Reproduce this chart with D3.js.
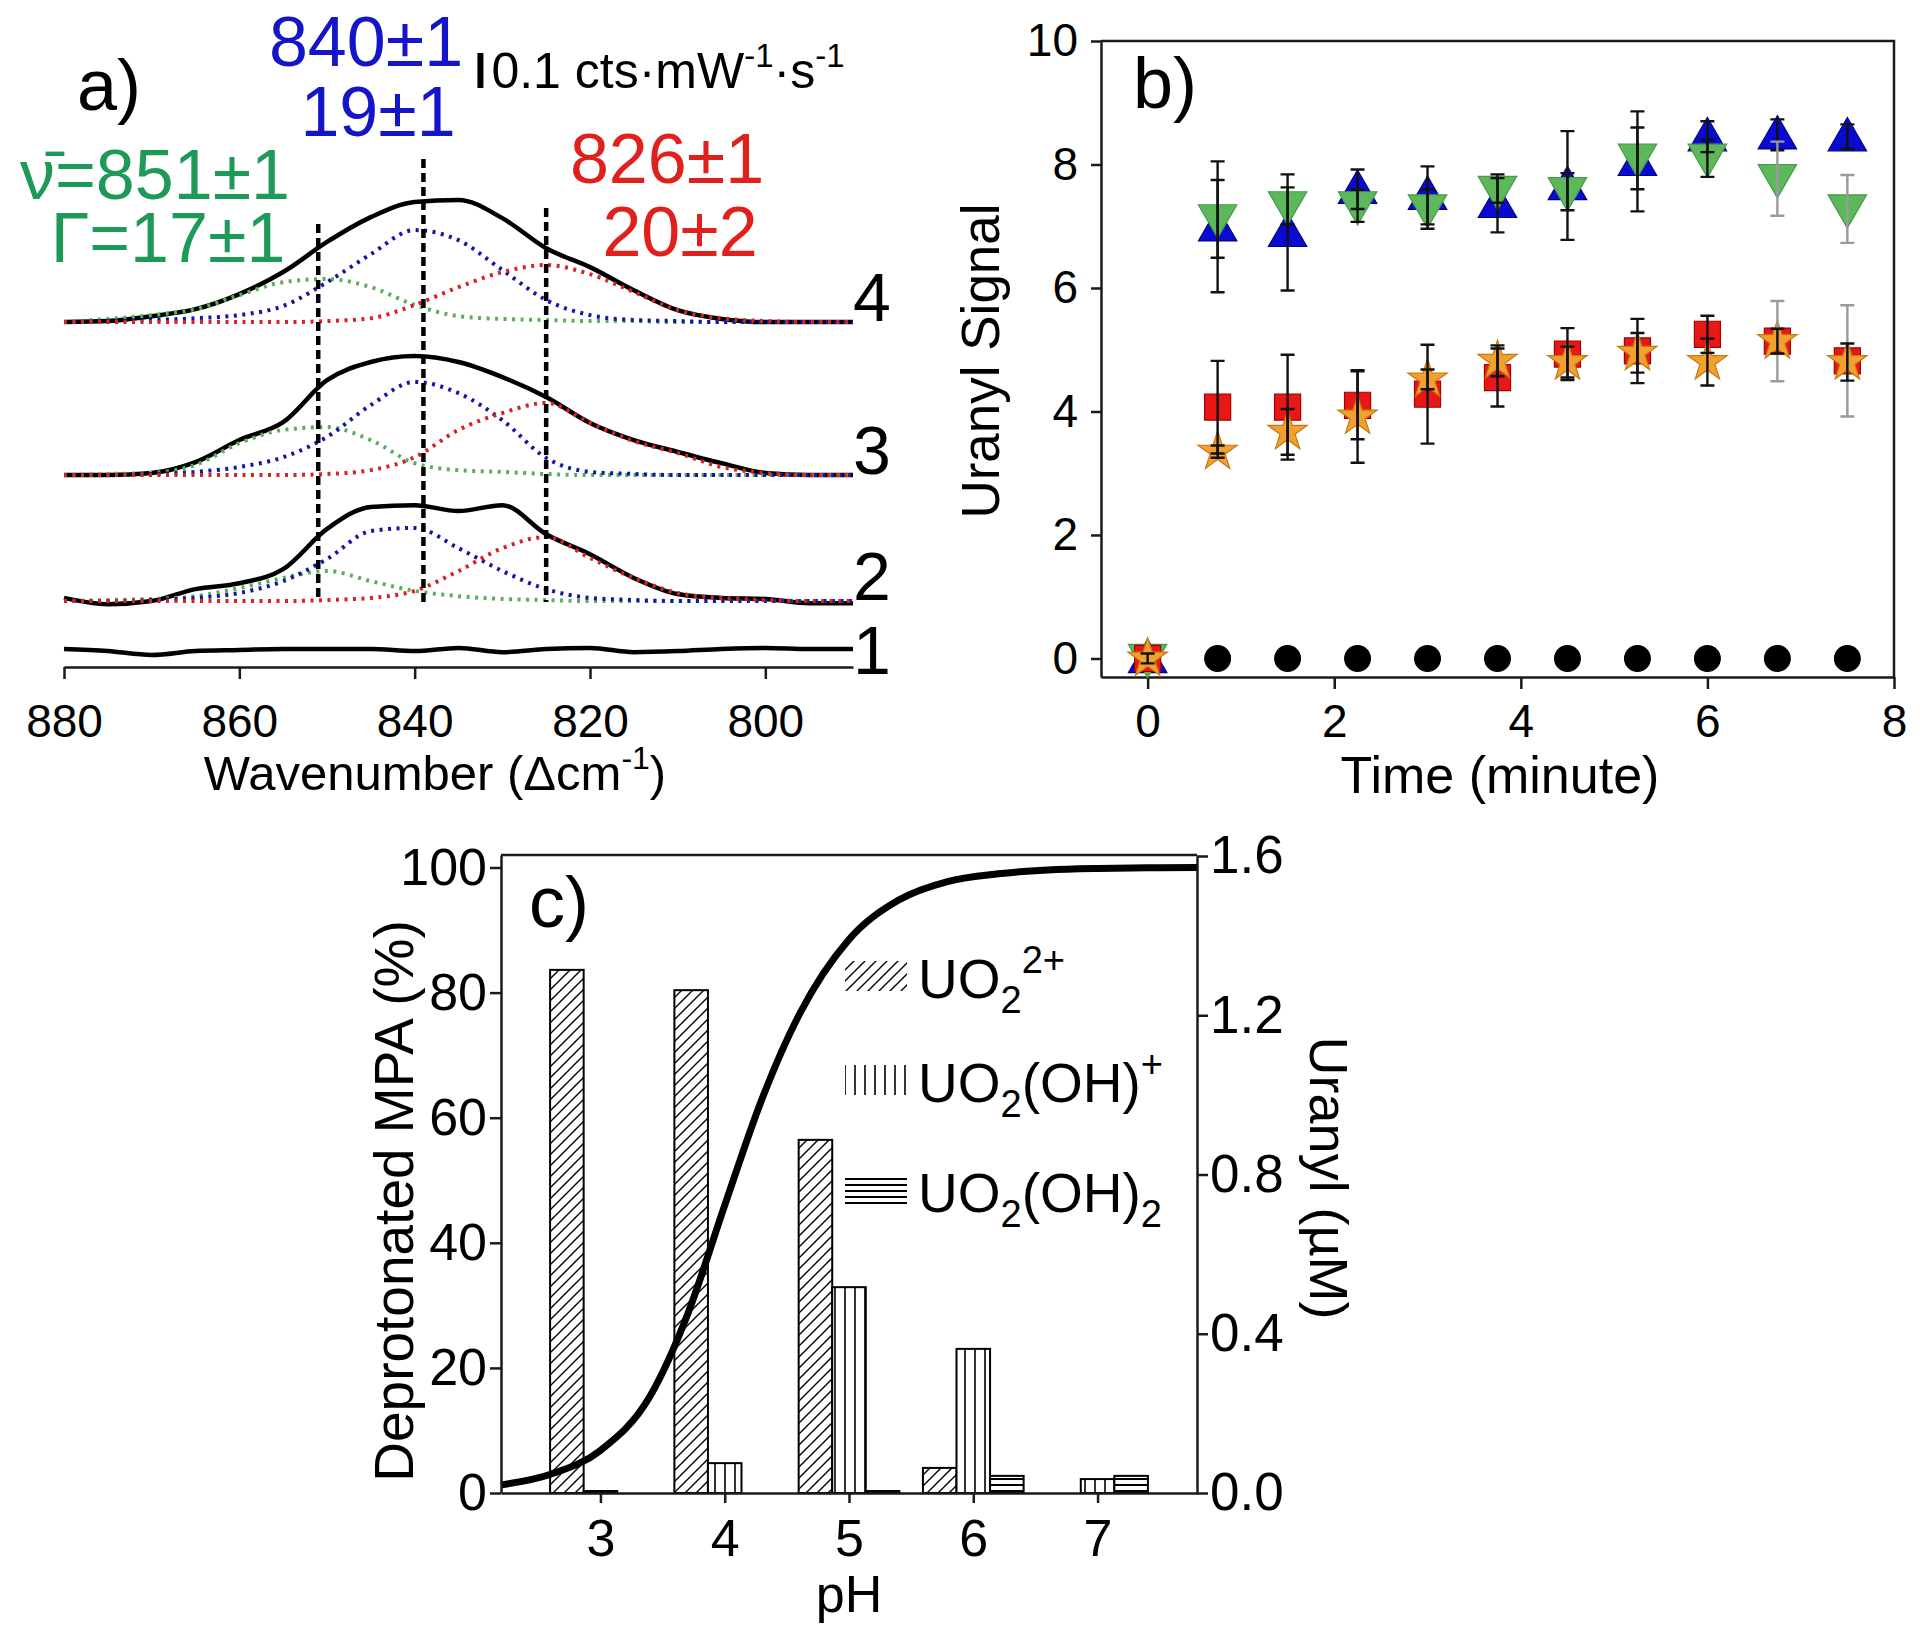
<!DOCTYPE html>
<html><head><meta charset="utf-8">
<script src="https://cdn.jsdelivr.net/npm/d3@7"></script>
<style>
body{margin:0;background:#fff}
text{font-family:"Liberation Sans",Arial,Helvetica,sans-serif;fill:#000}
</style>
</head><body>
<svg id="chart" width="1920" height="1632" xmlns="http://www.w3.org/2000/svg"></svg>
<script>
// ================= DATA =================
// ---- Panel a : Raman spectra (intensity in cts·mW^-1·s^-1) ----
const wavenumbers = [880,875,870,865,860,855,850,845,840,835,830,825,820,815,810,805,800,795,790];
const traceNames = ["1","2","3","4"];
const traceOffsets = [0, 0.137, 0.497, 0.934];
const trace1Total = [0,-0.006,-0.017,-0.006,-0.003,0,0,0,-0.006,0.003,-0.009,0,0.003,-0.009,-0.006,0,0.003,0,0];
const trace2Total = [0.009,-0.009,0,0.034,0.051,0.091,0.206,0.269,0.274,0.257,0.274,0.191,0.134,0.066,0.020,0.009,0.006,-0.006,-0.006];
const trace2Green = [0,0.003,0.006,0.014,0.037,0.066,0.086,0.057,0.029,0.014,0.006,0.003,0,0,0,0,0,0,0];
const trace2Blue  = [0,0,0.003,0.009,0.023,0.057,0.120,0.200,0.209,0.151,0.086,0.034,0.009,0.003,0,0,0,0,0];
const trace2Red   = [0,0,0,0,0,0,0.003,0.009,0.029,0.086,0.151,0.183,0.123,0.066,0.023,0.009,0.003,0,0];
const trace3Total = [0,0,0.006,0.037,0.100,0.151,0.271,0.323,0.340,0.323,0.280,0.223,0.149,0.100,0.066,0.034,0.006,0,0];
const trace3Green = [0,0.003,0.006,0.029,0.091,0.129,0.137,0.100,0.034,0.014,0.009,0.003,0,0,0,0,0,0,0];
const trace3Blue  = [0,0,0.003,0.009,0.023,0.051,0.109,0.200,0.266,0.234,0.157,0.049,0.009,0.003,0,0,0,0,0];
const trace3Red   = [0,0,0,0,0,0,0.003,0.014,0.051,0.129,0.177,0.206,0.149,0.097,0.063,0.023,0.006,0,0];
const trace4Total = [0,0.003,0.017,0.037,0.080,0.143,0.229,0.300,0.343,0.349,0.297,0.211,0.157,0.091,0.034,0.009,0,0,0];
const trace4Green = [0,0.009,0.020,0.037,0.077,0.114,0.123,0.100,0.049,0.017,0.009,0.006,0.003,0.003,0,0,0,0,0];
const trace4Blue  = [0,0.003,0.006,0.011,0.020,0.046,0.114,0.194,0.263,0.234,0.149,0.063,0.020,0.006,0.003,0,0,0,0];
const trace4Red   = [0,0,0,0,0,0,0.003,0.011,0.049,0.100,0.143,0.163,0.137,0.086,0.034,0.011,0.003,0,0];
const peakCenters = [851, 839, 825];
const peakLineTops = [1.214, 1.40, 1.26];
const peakLineBottom = 0.134;
const scaleBarWn = 832.5, scaleBarBase = 1.603, scaleBarLen = 0.1;
const wnTicks = [880, 860, 840, 820, 800];

// ---- Panel b : uranyl signal vs time ----
const times      = [0, 0.75, 1.5, 2.25, 3, 3.75, 4.5, 5.25, 6, 6.75, 7.5];
const blueUp     = [0, 6.99, 6.90, 7.60, 7.50, 7.37, 7.66, 8.05, 8.45, 8.48, 8.45];
const blueErr    = [0.08, 1.06, 0.94, 0.32, 0.47, 0.47, 0.88, 0.81, 0.25, 0.25, 0.20];
const greenDown  = [0, 7.12, 7.33, 7.33, 7.28, 7.58, 7.56, 8.10, 8.10, 7.77, 7.28];
const greenErr   = [0, 0.63, 0.30, 0.26, 0.32, 0.20, 0.30, 0.50, 0.30, 0.60, 0.55];
const redSquare  = [0, 4.07, 4.07, 4.10, 4.28, 4.55, 4.93, 4.98, 5.25, 5.14, 4.82];
const redErr     = [0, 0.75, 0.85, 0.55, 0.80, 0.47, 0.42, 0.52, 0.30, 0.65, 0.90];
const orangeStar = [0, 3.35, 3.67, 3.92, 4.52, 4.82, 4.80, 4.95, 4.80, 5.14, 4.80];
const starErr    = [0, 0.10, 0.37, 0.75, 0.16, 0.25, 0.25, 0.32, 0.38, 0.20, 0.30];
const blackCircle= [null, 0, 0, 0, 0, 0, 0, 0, 0, 0, 0];
const timeTicks = [0, 2, 4, 6, 8];
const signalTicks = [0, 2, 4, 6, 8, 10];

// ---- Panel c : speciation vs pH ----
const pHs = [3, 4, 5, 6, 7];
const uo2   = [1.314, 1.263, 0.887, 0.063, 0];     // UO2 2+ (µM)
const uo2oh = [0.005, 0.075, 0.517, 0.362, 0.035]; // UO2(OH)+ (µM)
const uo2oh2= [0, 0, 0.005, 0.043, 0.043];         // UO2(OH)2 (µM)
const curvePH  = [2.2, 2.6, 3.0, 3.4, 3.7, 4.0, 4.3, 4.6, 5.0, 5.4, 5.8, 6.2, 6.6, 7.0, 7.4, 7.8];
const curvePct = [1.3, 3.0, 6.8, 15.5, 28.5, 46, 63, 76.5, 88.5, 94.8, 97.8, 99.0, 99.6, 99.85, 99.95, 100];
const pctTicks = [0, 20, 40, 60, 80, 100];
const uMTicks = [0, 0.4, 0.8, 1.2, 1.6];

// ================= DRAWING =================
const svg = d3.select("#chart");
svg.append("rect").attr("width",1920).attr("height",1632).attr("fill","#fff");

function styleAxis(g, size){
  g.selectAll(".domain").attr("stroke","#1a1a1a").attr("stroke-width",2.5);
  g.selectAll(".tick line").attr("stroke","#1a1a1a").attr("stroke-width",2.5);
  g.selectAll(".tick text").attr("font-size",size).attr("fill","#000")
    .attr("font-family",'"Liberation Sans",Arial,sans-serif');
}

// ---------- Panel a ----------
const gA = svg.append("g");
const xA = d3.scaleLinear().domain([880, 790]).range([64, 853]);
const yA = d3.scaleLinear().domain([0, 1]).range([649, 299]);
const compColors = ["#58b058", "#1616a6", "#d62222"];
const traces = [
  {total: trace1Total, comps: []},
  {total: trace2Total, comps: [trace2Green, trace2Blue, trace2Red]},
  {total: trace3Total, comps: [trace3Green, trace3Blue, trace3Red]},
  {total: trace4Total, comps: [trace4Green, trace4Blue, trace4Red]}
];
traces.forEach((t, k) => {
  const off = traceOffsets[k];
  const ln = d3.line().x((d, i) => xA(wavenumbers[i])).y(d => yA(d + off)).curve(d3.curveMonotoneX);
  gA.append("path").attr("d", ln(t.total)).attr("fill","none").attr("stroke","#000")
    .attr("stroke-width",4.5).attr("stroke-linejoin","round");
  t.comps.forEach((c, j) => {
    gA.append("path").attr("d", ln(c)).attr("fill","none").attr("stroke",compColors[j])
      .attr("stroke-width",4).attr("stroke-dasharray","3,5.5");
  });
  gA.append("text").attr("x", 872).attr("y", yA(off) + (k===0 ? 25 : -1))
    .attr("text-anchor","middle").attr("font-size",68).text(traceNames[k]);
});
// peak position lines
peakCenters.forEach((p, i) => {
  gA.append("line").attr("x1", xA(p)).attr("x2", xA(p))
    .attr("y1", yA(peakLineTops[i])).attr("y2", yA(peakLineBottom))
    .attr("stroke","#000").attr("stroke-width",4.5).attr("stroke-dasharray","9,5");
});
// scale bar
gA.append("line").attr("x1", xA(scaleBarWn)).attr("x2", xA(scaleBarWn))
  .attr("y1", yA(scaleBarBase)).attr("y2", yA(scaleBarBase + scaleBarLen))
  .attr("stroke","#000").attr("stroke-width",6);
const sbt = gA.append("text").attr("x", xA(scaleBarWn) + 11).attr("y", yA(scaleBarBase)).attr("font-size",50);
sbt.append("tspan").text("0.1 cts·mW");
sbt.append("tspan").attr("font-size",33).attr("dy",-21).text("-1");
sbt.append("tspan").attr("dy",21).text("·s");
sbt.append("tspan").attr("font-size",33).attr("dy",-21).text("-1");
// axis
const axA = gA.append("g").attr("transform","translate(0,667)")
  .call(d3.axisBottom(xA).tickValues(wnTicks).tickSize(12).tickSizeOuter(0).tickPadding(25).tickFormat(d3.format("d")));
styleAxis(axA, 46);
const wt = gA.append("text").attr("x", 435).attr("y", 790).attr("text-anchor","middle").attr("font-size",49);
wt.append("tspan").text("Wavenumber (Δcm");
wt.append("tspan").attr("font-size",32).attr("dy",-21).text("-1");
wt.append("tspan").attr("dy",21).text(")");
// annotations
gA.append("text").attr("x",77).attr("y",110).attr("font-size",72).text("a)");
const ann = [
  {t:"840±1", x:366, y:66, c:"#1414c8"}, {t:"19±1", x:378, y:136, c:"#1414c8"},
  {t:"ν\u0304=851±1", x:155, y:199, c:"#1e9a58"}, {t:"Γ=17±1", x:168, y:262, c:"#1e9a58"},
  {t:"826±1", x:667, y:183, c:"#e0201c"}, {t:"20±2", x:680, y:256, c:"#e0201c"}
];
ann.forEach(a => gA.append("text").attr("x",a.x).attr("y",a.y).attr("text-anchor","middle")
  .attr("font-size",70).style("fill",a.c).text(a.t));

// ---------- Panel b ----------
const gB = svg.append("g");
const xB = d3.scaleLinear().domain([-0.5, 8]).range([1101, 1894]);
const yB = d3.scaleLinear().domain([-0.3, 10]).range([677, 41]);
const axBL = gB.append("g").attr("transform","translate(1101,0)")
  .call(d3.axisLeft(yB).tickValues(signalTicks).tickSize(10).tickSizeOuter(0).tickPadding(13));
styleAxis(axBL, 46);
const axBB = gB.append("g").attr("transform","translate(0,677)")
  .call(d3.axisBottom(xB).tickValues(timeTicks).tickSize(12).tickSizeOuter(0).tickPadding(15));
styleAxis(axBB, 46);
gB.append("path").attr("d", `M${xB(-0.5)},${yB(10)}H${xB(8)}V${yB(-0.3)}`)
  .attr("fill","none").attr("stroke","#1a1a1a").attr("stroke-width",2.5);
gB.append("text").attr("transform","translate(999,361) rotate(-90)").attr("text-anchor","middle")
  .attr("font-size",53).text("Uranyl Signal");
gB.append("text").attr("x",1500).attr("y",793).attr("text-anchor","middle").attr("font-size",52).text("Time (minute)");
gB.append("text").attr("x",1133).attr("y",108).attr("font-size",72).text("b)");

const triUp = d3.symbol().type(d3.symbolTriangle).size(640)();
const sq = d3.symbol().type(d3.symbolSquare).size(680)();
const star = d3.symbol().type(d3.symbolStar).size(480)();
const circ = d3.symbol().type(d3.symbolCircle).size(520)();
const seriesB = [
  {v: blueUp, e: blueErr, path: triUp, rot: 0, fill:"#0a0ad0", stroke:"#00008a"},
  {v: greenDown, e: greenErr, path: triUp, rot: 180, fill:"#5cb85a", stroke:"#4a9a48", grayFrom: 6.75},
  {v: redSquare, e: redErr, path: sq, rot: 0, fill:"#e81818", stroke:"#a80000", grayFrom: 6.75},
  {v: orangeStar, e: starErr, path: star, rot: 0, fill:"#f2a030", stroke:"#c87810"},
  {v: blackCircle, e: null, path: circ, rot: 0, fill:"#000", stroke:"#000"}
];
seriesB.forEach(s => {
  times.forEach((t, i) => {
    if (s.v[i] === null) return;
    gB.append("path").attr("d", s.path)
      .attr("transform", `translate(${xB(t)},${yB(s.v[i]) + (s.path===triUp ? (s.rot ? -3 : 3) : 0)}) rotate(${s.rot})`)
      .attr("fill", s.fill).attr("stroke", s.stroke).attr("stroke-width",1.2);
  });
});
seriesB.forEach(s => {
  if (!s.e) return;
  times.forEach((t, i) => {
    if (s.v[i] === null || !s.e[i]) return;
    const col = (s.grayFrom !== undefined && t >= s.grayFrom) ? "#9a9a9a" : "#111";
    const x = xB(t), y1 = yB(s.v[i] + s.e[i]), y2 = yB(s.v[i] - s.e[i]);
    gB.append("path").attr("d", `M${x},${y1}V${y2}M${x-7},${y1}H${x+7}M${x-7},${y2}H${x+7}`)
      .attr("fill","none").attr("stroke",col).attr("stroke-width",2.4);
  });
});

// ---------- Panel c ----------
const gC = svg.append("g");
const defs = svg.append("defs");
const pd = defs.append("pattern").attr("id","diag").attr("patternUnits","userSpaceOnUse").attr("width",11).attr("height",11);
pd.append("rect").attr("width",11).attr("height",11).attr("fill","#fff");
pd.append("path").attr("d","M0,11L11,0M-2,2L2,-2M9,13L13,9").attr("stroke","#000").attr("stroke-width",1.4);
const pv = defs.append("pattern").attr("id","vert").attr("patternUnits","userSpaceOnUse").attr("width",10).attr("height",10);
pv.append("rect").attr("width",10).attr("height",10).attr("fill","#fff");
pv.append("path").attr("d","M5,0V10").attr("stroke","#000").attr("stroke-width",1.6);
const ph = defs.append("pattern").attr("id","horz").attr("patternUnits","userSpaceOnUse").attr("width",10).attr("height",6);
ph.append("rect").attr("width",10).attr("height",6).attr("fill","#fff");
ph.append("path").attr("d","M0,3H10").attr("stroke","#000").attr("stroke-width",2);

const xC = d3.scaleLinear().domain([2.2, 7.8]).range([501, 1197]);
const yCL = d3.scaleLinear().domain([0, 102]).range([1493, 855]);
const yCR = d3.scaleLinear().domain([0, 1.6]).range([1493, 856]);
const species = [
  {v: uo2, off: -0.27, fill:"url(#diag)"},
  {v: uo2oh, off: 0, fill:"url(#vert)"},
  {v: uo2oh2, off: 0.27, fill:"url(#horz)"}
];
const bw = xC(2.2 + 0.27) - xC(2.2);
species.forEach(s => {
  pHs.forEach((p, i) => {
    if (!s.v[i]) return;
    const x0 = xC(p + s.off) - bw/2;
    gC.append("rect").attr("x", x0).attr("width", bw)
      .attr("y", yCR(s.v[i])).attr("height", yCR(0) - yCR(s.v[i]))
      .attr("fill", s.fill).attr("stroke","#000").attr("stroke-width",2);
  });
});
const cl = d3.line().x((d,i) => xC(curvePH[i])).y(d => yCL(d)).curve(d3.curveMonotoneX);
gC.append("path").attr("d", cl(curvePct)).attr("fill","none").attr("stroke","#000").attr("stroke-width",7);

const axCL = gC.append("g").attr("transform","translate(501,0)")
  .call(d3.axisLeft(yCL).tickValues(pctTicks).tickSize(11).tickSizeOuter(0).tickPadding(3));
styleAxis(axCL, 52);
const axCR = gC.append("g").attr("transform","translate(1197,0)")
  .call(d3.axisRight(yCR).tickValues(uMTicks).tickFormat(d3.format(".1f")).tickSize(11).tickSizeOuter(0).tickPadding(2));
styleAxis(axCR, 53);
const axCB = gC.append("g").attr("transform","translate(0,1493)")
  .call(d3.axisBottom(xC).tickValues(pHs).tickFormat(d3.format("d")).tickSize(10).tickSizeOuter(0).tickPadding(16));
styleAxis(axCB, 52);
gC.append("line").attr("x1",501).attr("x2",1197).attr("y1",855).attr("y2",855).attr("stroke","#1a1a1a").attr("stroke-width",2.5);

gC.append("text").attr("transform","translate(413,1201) rotate(-90)").attr("text-anchor","middle")
  .attr("font-size",55).text("Deprotonated MPA (%)");
gC.append("text").attr("transform","translate(1310,1178) rotate(90)").attr("text-anchor","middle")
  .attr("font-size",54).text("Uranyl (µM)");
gC.append("text").attr("x",849).attr("y",1612).attr("text-anchor","middle").attr("font-size",52).text("pH");
gC.append("text").attr("x",529).attr("y",927).attr("font-size",72).text("c)");

// legend
const legend = [
  {fill:"url(#diag)", y:998, parts:[["UO",0],["2",1],["2+",2]]},
  {fill:"url(#vert)", y:1102, parts:[["UO",0],["2",1],["(OH)",0],["+",2]]},
  {fill:"url(#horz)", y:1212, parts:[["UO",0],["2",1],["(OH)",0],["2",1]]}
];
legend.forEach(L => {
  gC.append("rect").attr("x",845).attr("y",L.y-37).attr("width",62).attr("height",30).attr("fill",L.fill);
  const tx = gC.append("text").attr("x",918).attr("y",L.y).attr("font-size",55);
  let cur = 0;
  L.parts.forEach(([s, k]) => {
    const target = k === 1 ? 15 : (k === 2 ? -25 : 0);
    tx.append("tspan").attr("dy", target - cur).attr("font-size", k ? 38 : 55).text(s);
    cur = target;
  });
});
</script>
</body></html>
